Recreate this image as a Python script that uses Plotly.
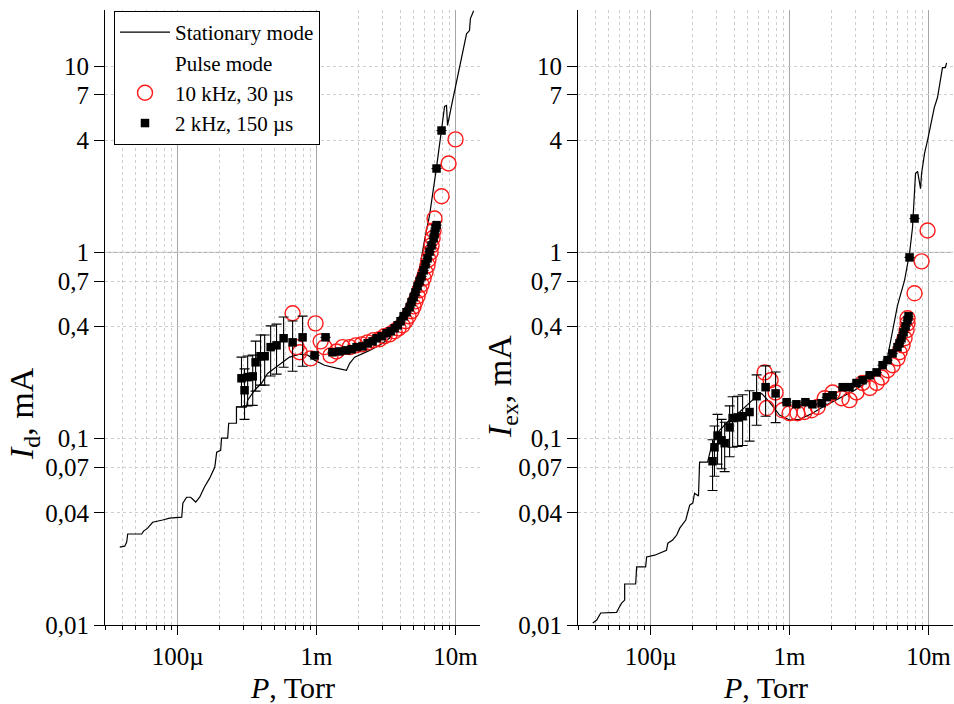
import math
import plotly.graph_objects as go

# ---------------- data (P in Torr, I in mA) ----------------
# Left panel: discharge current I_d
stat_P_d = [3.83e-5, 4.16e-5, 4.30e-5, 4.37e-5, 5.51e-5, 5.69e-5, 6.08e-5, 6.61e-5, 7.80e-5, 8.75e-5,
            1.07e-4, 1.09e-4, 1.16e-4, 1.24e-4, 1.35e-4, 1.44e-4, 1.56e-4, 1.70e-4, 1.85e-4, 1.91e-4,
            2.04e-4, 2.07e-4, 2.29e-4, 2.33e-4, 2.65e-4, 2.65e-4, 3.13e-4, 3.19e-4, 3.58e-4, 4.02e-4,
            4.44e-4, 4.99e-4, 5.60e-4, 6.39e-4, 7.55e-4, 8.61e-4, 9.67e-4, 1.14e-3, 1.39e-3, 1.64e-3,
            1.73e-3, 1.88e-3, 2.41e-3, 2.84e-3, 3.35e-3, 3.64e-3, 3.95e-3, 4.30e-3, 4.67e-3, 5.07e-3,
            5.51e-3, 5.98e-3, 6.50e-3, 7.30e-3, 7.93e-3, 8.34e-3, 8.61e-3, 8.76e-3, 9.36e-3, 1.02e-2,
            1.10e-2, 1.20e-2, 1.26e-2, 1.28e-2, 1.35e-2]
stat_I_d = [0.0262, 0.0265, 0.0279, 0.0308, 0.0308, 0.0319, 0.0331, 0.0356, 0.0366, 0.0375,
            0.0379, 0.0451, 0.0485, 0.0485, 0.0457, 0.0485, 0.0550, 0.0614, 0.0703, 0.0847,
            0.0867, 0.1006, 0.1006, 0.121, 0.121, 0.148, 0.148, 0.161, 0.182, 0.199,
            0.224, 0.239, 0.257, 0.274, 0.284, 0.281, 0.264, 0.248, 0.239, 0.233,
            0.254, 0.274, 0.298, 0.317, 0.346, 0.382, 0.421, 0.477, 0.553, 0.665,
            0.821, 1.16, 1.58, 2.86, 4.51, 6.07, 6.14, 4.80, 6.14, 8.36,
            11.0, 14.9, 15.5, 18.0, 19.8]

p10_P_d = [6.72e-4, 9.83e-4, 7.18e-4, 7.55e-4, 9.06e-4, 1.07e-3, 1.14e-3, 1.26e-3, 1.39e-3, 1.54e-3,
           1.73e-3, 1.91e-3, 2.11e-3, 2.33e-3, 2.57e-3, 2.84e-3, 3.08e-3, 3.35e-3, 3.64e-3, 3.89e-3,
           4.16e-3, 4.37e-3, 4.59e-3, 4.82e-3, 4.99e-3, 5.15e-3, 5.33e-3, 5.51e-3, 5.69e-3, 5.89e-3,
           6.08e-3, 6.29e-3, 6.39e-3, 6.61e-3, 6.72e-3, 6.84e-3, 6.95e-3, 7.06e-3, 7.93e-3, 8.91e-3,
           1.0e-2]
p10_I_d = [0.471, 0.416, 0.310, 0.291, 0.270, 0.333, 0.310, 0.280, 0.294, 0.310,
           0.310, 0.317, 0.321, 0.329, 0.338, 0.342, 0.355, 0.363, 0.377, 0.391,
           0.406, 0.427, 0.454, 0.483, 0.513, 0.546, 0.581, 0.626, 0.673, 0.726,
           0.782, 0.852, 0.917, 1.0, 1.09, 1.19, 1.31, 1.52, 2.00, 3.00,
           4.04]

p2_P_d = [2.88e-4, 3.03e-4, 3.19e-4, 3.47e-4, 3.64e-4, 3.95e-4, 4.23e-4, 4.67e-4, 5.15e-4, 5.79e-4,
          6.72e-4, 7.93e-4, 9.67e-4, 1.16e-3, 1.30e-3, 1.46e-3,
          1.64e-3, 1.79e-3, 1.94e-3, 2.14e-3, 2.33e-3, 2.53e-3, 2.70e-3, 2.94e-3, 3.19e-3, 3.41e-3,
          3.64e-3, 3.83e-3, 4.02e-3, 4.23e-3, 4.44e-3, 4.67e-3, 4.82e-3, 4.99e-3, 5.15e-3, 5.33e-3,
          5.51e-3, 5.69e-3, 5.89e-3, 6.08e-3, 6.29e-3, 6.50e-3, 6.72e-3, 6.95e-3, 7.06e-3, 7.18e-3,
          7.30e-3, 7.30e-3, 7.93e-3]
p2_I_d = [0.211, 0.182, 0.214, 0.216, 0.257, 0.277, 0.277, 0.310, 0.317, 0.346,
          0.329, 0.350, 0.280, 0.350, 0.291, 0.294,
          0.298, 0.302, 0.310, 0.313, 0.325, 0.333, 0.346, 0.355, 0.368, 0.377,
          0.391, 0.406, 0.427, 0.454, 0.477, 0.507, 0.540, 0.574, 0.610, 0.657,
          0.700, 0.743, 0.801, 0.863, 0.929, 1.01, 1.09, 1.19, 1.26, 1.35,
          1.40, 2.82, 4.51]
p2_err_d = [0.063, 0.055, 0.064, 0.065, 0.077, 0.083, 0.083, 0.093, 0.095, 0.104,
            0.099, 0.105] + [None] * 37

# Right panel: current I_ex
stat_P_ex = [3.83e-5, 4.09e-5, 4.37e-5, 5.69e-5, 5.89e-5, 6.18e-5, 6.50e-5, 6.50e-5, 7.80e-5, 7.93e-5,
             9.20e-5, 9.36e-5, 1.07e-4, 1.16e-4, 1.30e-4, 1.33e-4, 1.44e-4, 1.54e-4, 1.62e-4, 1.79e-4,
             1.85e-4, 1.91e-4, 2.01e-4, 2.07e-4, 2.21e-4, 2.25e-4, 2.57e-4, 2.75e-4, 3.13e-4, 3.70e-4,
             4.37e-4, 4.99e-4, 5.60e-4, 6.29e-4, 7.18e-4, 8.47e-4, 1.0e-3, 1.18e-3, 1.46e-3, 1.82e-3,
             2.29e-3, 2.94e-3, 3.77e-3, 4.44e-3, 5.07e-3, 5.51e-3, 5.98e-3, 6.72e-3, 7.30e-3, 7.67e-3,
             7.93e-3, 8.06e-3, 8.34e-3, 8.76e-3, 8.91e-3, 9.36e-3, 9.84e-3, 1.05e-2, 1.10e-2, 1.16e-2,
             1.22e-2, 1.26e-2, 1.32e-2, 1.35e-2]
stat_I_ex = [0.01025, 0.01064, 0.0116, 0.0117, 0.0123, 0.0131, 0.0136, 0.0166, 0.0166, 0.0205,
             0.0205, 0.0232, 0.0237, 0.0243, 0.0252, 0.0275, 0.0286, 0.0304, 0.0331, 0.0366,
             0.0399, 0.0440, 0.0451, 0.0510, 0.0492, 0.0748, 0.0748, 0.0923, 0.111, 0.126,
             0.139, 0.153, 0.165, 0.175, 0.157, 0.134, 0.126, 0.127, 0.137, 0.151,
             0.165, 0.182, 0.206, 0.233, 0.274, 0.382, 0.520, 0.708, 0.988, 1.36,
             2.23, 2.65, 2.72, 2.20, 2.65, 3.40, 3.99, 5.10, 5.99, 6.78,
             8.36, 9.82, 9.82, 10.4]

p10_P_ex = [6.61e-4, 7.30e-4, 7.93e-4, 6.84e-4, 8.91e-4, 1.0e-3, 1.14e-3, 1.28e-3, 1.44e-3, 1.59e-3,
            1.79e-3, 2.04e-3, 2.37e-3, 2.70e-3, 3.03e-3, 3.35e-3, 3.77e-3, 4.23e-3, 4.59e-3, 5.07e-3,
            5.51e-3, 5.98e-3, 6.18e-3, 6.50e-3, 6.72e-3, 6.95e-3, 7.06e-3, 7.06e-3, 7.93e-3, 8.91e-3,
            9.84e-3]
p10_I_ex = [0.227, 0.206, 0.177, 0.146, 0.142, 0.137, 0.137, 0.139, 0.142, 0.148,
            0.165, 0.177, 0.165, 0.161, 0.177, 0.199, 0.187, 0.199, 0.213, 0.233,
            0.248, 0.270, 0.291, 0.317, 0.346, 0.382, 0.416, 0.443, 0.603, 0.895,
            1.31]

p2_P_ex = [2.79e-4, 2.88e-4, 3.03e-4, 3.24e-4, 3.41e-4, 3.70e-4, 3.89e-4, 4.23e-4, 4.59e-4, 5.15e-4,
           5.79e-4, 6.72e-4, 7.93e-4,
           9.52e-4, 1.12e-3, 1.30e-3, 1.46e-3, 1.70e-3, 1.85e-3, 2.04e-3, 2.41e-3, 2.70e-3, 3.03e-3,
           3.35e-3, 3.77e-3, 4.23e-3, 4.67e-3, 5.07e-3, 5.51e-3, 5.98e-3, 6.18e-3, 6.39e-3, 6.61e-3,
           6.84e-3, 7.06e-3, 7.18e-3, 7.30e-3, 7.93e-3]
p2_I_ex = [0.0757, 0.0899, 0.104, 0.098, 0.0946, 0.115, 0.129, 0.130, 0.132, 0.139,
           0.169, 0.189, 0.175,
           0.157, 0.153, 0.157, 0.153, 0.155, 0.167, 0.171, 0.189, 0.189, 0.199,
           0.206, 0.219, 0.227, 0.248, 0.264, 0.287, 0.310, 0.325, 0.346, 0.372,
           0.401, 0.432, 0.454, 0.940, 1.52]
p2_err_ex = [0.023, 0.027, 0.031, 0.029, 0.028, 0.035, 0.039, 0.039, 0.040, 0.042,
             0.051, 0.057, 0.053] + [None] * 25

x_major = [1e-4, 1e-3, 1e-2]
x_major_text = ["100µ", "1m", "10m"]
x_minor = [m * 10 ** e for e in (-5, -4, -3, -2) for m in range(2, 10)]
y_ticks = [0.01, 0.04, 0.07, 0.1, 0.4, 0.7, 1, 4, 7, 10]
y_text = ["0,01", "0,04", "0,07", "0,1", "0,4", "0,7", "1", "4", "7", "10"]
y_solid = [0.1, 1, 10]

FONT = "Liberation Serif"
RED = "#ff1a1a"

fig = go.Figure()


def add_panel(xa, ya, sp, si, cp, ci, qp, qi, qe, legend):
    fig.add_trace(go.Scatter(x=sp, y=si, mode="lines", line=dict(color="black", width=1.2),
                             name="Stationary mode", showlegend=legend, xaxis=xa, yaxis=ya))
    if legend:
        fig.add_trace(go.Scatter(x=[None], y=[None], mode="markers",
                                 marker=dict(size=1, color="rgba(0,0,0,0)", line=dict(width=0)),
                                 name="Pulse mode", showlegend=True, xaxis=xa, yaxis=ya))
    fig.add_trace(go.Scatter(x=cp, y=ci, mode="markers", name="10 kHz, 30 µs", showlegend=legend,
                             marker=dict(symbol="circle-open", size=15, color=RED, line=dict(width=1.4, color=RED)),
                             xaxis=xa, yaxis=ya))
    fig.add_trace(go.Scatter(x=qp, y=qi, mode="markers", name="2 kHz, 150 µs", showlegend=legend,
                             marker=dict(symbol="square", size=8.5, color="black"),
                             error_y=dict(type="data", array=qe, visible=True, color="black", thickness=1.1, width=5),
                             xaxis=xa, yaxis=ya))


add_panel("x", "y", stat_P_d, stat_I_d, p10_P_d, p10_I_d, p2_P_d, p2_I_d, p2_err_d, True)
add_panel("x2", "y2", stat_P_ex, stat_I_ex, p10_P_ex, p10_I_ex, p2_P_ex, p2_I_ex, p2_err_ex, False)

xr = [math.log10(3e-5), math.log10(1.5e-2)]
yr = [-2, math.log10(20)]


def xaxis(domain, anchor):
    return dict(type="log", range=xr, domain=domain, anchor=anchor, automargin=False,
                tickvals=x_major, ticktext=x_major_text, ticks="outside", ticklen=9, tickwidth=1,
                tickcolor="black", showline=True, linecolor="black", linewidth=1,
                showgrid=True, gridcolor="#a6a6a6", gridwidth=1, zeroline=False,
                tickfont=dict(family=FONT, size=25, color="black"),
                minor=dict(tickvals=x_minor, ticks="outside", ticklen=4, tickcolor="black",
                           showgrid=True, gridcolor="#cfcfcf", griddash="3px,3px", gridwidth=1))


def yaxis(domain, anchor):
    return dict(type="log", range=yr, domain=domain, anchor=anchor, automargin=False,
                tickvals=y_ticks, ticktext=y_text, ticks="outside", ticklen=10, tickwidth=1,
                tickcolor="black", showline=True, linecolor="black", linewidth=1,
                showgrid=True, gridcolor="#cfcfcf", griddash="3px,3px", gridwidth=1, zeroline=False,
                tickfont=dict(family=FONT, size=25, color="black"))


ydom = [(704 - 625) / 704, (704 - 10) / 704]
fig.update_layout(
    width=954, height=704, margin=dict(l=0, r=0, t=0, b=0, autoexpand=False),
    paper_bgcolor="white", plot_bgcolor="white",
    xaxis=xaxis([105 / 954, 480 / 954], "y"),
    yaxis=yaxis(ydom, "x"),
    xaxis2=xaxis([578 / 954, 953 / 954], "y2"),
    yaxis2=yaxis(ydom, "x2"),
    legend=dict(x=114 / 954, y=1 - 11 / 704, xanchor="left", yanchor="top",
                bordercolor="black", borderwidth=1, bgcolor="white",
                font=dict(family=FONT, size=21, color="black"), tracegroupgap=0, itemwidth=50),
)

shapes = []
for xd, yd in (("x domain", "y"), ("x2 domain", "y2")):
    for v in y_solid:
        shapes.append(dict(type="line", xref=xd, yref=yd, x0=0, x1=1, y0=math.log10(v), y1=math.log10(v),
                           line=dict(color="#a6a6a6", width=1), layer="below"))
fig.update_layout(shapes=shapes)

annots = [
    dict(text="<i>P</i>, Torr", x=292 / 954, y=1 - 687 / 704, size=30),
    dict(text="<i>P</i>, Torr", x=765 / 954, y=1 - 687 / 704, size=30),
    dict(text="<i>I</i><sub>d</sub>, mA", x=24 / 954, y=1 - 414 / 704, textangle=-90, size=34),
    dict(text="<i>I</i><sub>ex</sub>, mA", x=502 / 954, y=1 - 386 / 704, textangle=-90, size=34),
]
for a in annots:
    size = a.pop("size")
    fig.add_annotation(xref="paper", yref="paper", showarrow=False, xanchor="center", yanchor="middle",
                       font=dict(family=FONT, size=size, color="black"), **a)

fig.write_html("out.html", config={"displayModeBar": False},
               post_script="document.body.style.margin='0px';document.body.style.overflow='hidden';")
